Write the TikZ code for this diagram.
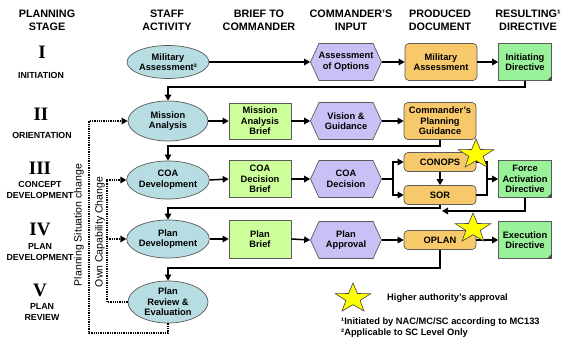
\documentclass[tikz,border=0pt]{standalone}
\usepackage{fontspec}
\setmainfont{Liberation Sans}
\newfontfamily\romanfont{Liberation Serif}
\usetikzlibrary{shapes.geometric,arrows.meta}
\definecolor{staffcol}{RGB}{183,221,226}
\definecolor{briefcol}{RGB}{204,255,153}
\definecolor{hexcol}{RGB}{202,192,246}
\definecolor{doccol}{RGB}{247,201,107}
\definecolor{dircol}{RGB}{153,242,153}
\definecolor{edgecol}{RGB}{90,90,90}
\definecolor{starcol}{RGB}{255,255,0}
\tikzset{
  hdr/.style={font=\bfseries\fontsize{10.8}{13}\selectfont, align=center, inner sep=0pt},
  rom/.style={font=\romanfont\bfseries\fontsize{19}{19}\selectfont, inner sep=0pt},
  stg/.style={font=\bfseries\fontsize{8.8}{10.5}\selectfont, align=center, inner sep=0pt},
  base/.style={font=\bfseries\fontsize{9.3}{10.6}\selectfont, align=center, inner sep=0pt, draw=edgecol, line width=0.7pt},
  staff/.style={base, ellipse, fill=staffcol, minimum width=80pt},
  brief/.style={base, rectangle, fill=briefcol, minimum width=62pt},
  hexbox/.style={base, draw=none, rectangle, minimum width=71pt, minimum height=37pt},
  hexshape/.style={fill=hexcol, draw=edgecol, line width=0.7pt},
  doc/.style={base, rectangle, rounded corners=4pt, fill=doccol, minimum width=72pt, minimum height=37pt},
  smalldoc/.style={doc, minimum height=19pt},
  dir/.style={base, rectangle, fill=dircol, minimum width=53pt, minimum height=37pt},
  link/.style={line width=1.5pt, black},
  conn/.style={link, -{Triangle[length=6pt,width=6.5pt]}},
  dotconn/.style={line width=1.4pt, black, dash pattern=on 1.3pt off 1pt, -{Triangle[length=6pt,width=6.5pt]}},
  rotlab/.style={font=\fontsize{10.5}{12}\selectfont, rotate=90, inner sep=0pt},
  note/.style={font=\bfseries\fontsize{9.3}{11}\selectfont, anchor=west, inner sep=0pt},
  starsty/.style={fill=starcol, draw=black!75, line width=0.6pt},
}
\newcommand\hexat[4]{%
  \filldraw[hexshape] (#2-35.5,#3) -- (#2-27,#3-18.5) -- (#2+27,#3-18.5) -- (#2+35.5,#3) -- (#2+27,#3+18.5) -- (#2-27,#3+18.5) -- cycle;
  \node[hexbox] (#1) at (#2,#3) {#4};}
\newcommand\starat[2]{%
  \filldraw[starsty, shift={(#1,#2)}, xscale=1.2] (-90:15.5) -- (-54:6.2) -- (-18:15.5) -- (18:6.2) -- (54:15.5) -- (90:6.2) -- (126:15.5) -- (162:6.2) -- (198:15.5) -- (234:6.2) -- cycle;}
\begin{document}
\begin{tikzpicture}[x=1pt,y=-1pt]
\useasboundingbox (0,0) rectangle (564,337);
\fill[white] (0,0) rectangle (564,337);
% headers
\node[hdr] (h1) at (47,20.5) {PLANNING\\STAGE};
\node[hdr] (h2) at (167,20.5) {STAFF\\ACTIVITY};
\node[hdr] (h3) at (259,20.5) {BRIEF TO\\COMMANDER};
\node[hdr] (h4) at (351,20.5) {COMMANDER’S\\INPUT};
\node[hdr] (h5) at (440,20.5) {PRODUCED\\DOCUMENT};
\node[hdr] (h6) at (528,20.5) {RESULTING¹\\DIRECTIVE};
% stages
\node[rom] (s1) at (42,52) {I};
\node[stg] (t1) at (41,75) {INITIATION};
\node[rom] (s2) at (41,114) {II};
\node[stg] (t2) at (42,135) {ORIENTATION};
\node[rom] (s3) at (40,168) {III};
\node[stg] (t3) at (40,190) {CONCEPT\\DEVELOPMENT};
\node[rom] (s4) at (40,229) {IV};
\node[stg] (t4) at (40,252) {PLAN\\DEVELOPMENT};
\node[rom] (s5) at (40,290) {V};
\node[stg] (t5) at (42,312) {PLAN\\REVIEW};
% staff activities
\node[staff, minimum height=33pt] (ma) at (168,62) {Military\\Assessment²};
\node[staff, minimum height=40pt] (mis) at (168,121) {Mission\\Analysis};
\node[staff, minimum height=38pt] (coa) at (168,180) {COA\\Development};
\node[staff, minimum height=38pt] (pd) at (168,239) {Plan\\Development};
\node[staff, minimum height=42pt] (prv) at (168,302) {Plan\\Review \&\\Evaluation};
% briefs
\node[brief, minimum height=36pt] (mab) at (260,121) {Mission\\Analysis\\Brief};
\node[brief, minimum height=37pt] (cdb) at (260,179) {COA\\Decision\\Brief};
\node[brief, minimum height=38pt] (pb) at (260,239) {Plan\\Brief};
% commander's input
\hexat{ao}{346}{62}{Assessment\\of Options}
\hexat{vg}{346}{121}{Vision \&\\Guidance}
\hexat{cd}{346}{179}{COA\\Decision}
\hexat{pa}{346}{240}{Plan\\Approval}
% documents
\node[doc] (mad) at (441,62) {Military\\Assessment};
\node[doc] (cpg) at (440,121) {Commander’s\\Planning\\Guidance};
\node[smalldoc] (conops) at (440,162) {CONOPS};
\node[smalldoc] (sor) at (440,195) {SOR};
\node[smalldoc] (oplan) at (440,240) {OPLAN};
% directives
\node[dir] (idr) at (525,62) {Initiating\\Directive};
\node[dir] (fad) at (525,179) {Force\\Activation\\Directive};
\node[dir] (ed) at (525,240) {Execution\\Directive};
\foreach \n in {idr,fad,ed}
  \fill[black!70] ([xshift=-5pt]\n.south east) -- (\n.south east) -- ([yshift=5pt]\n.south east) -- cycle;
% coordinates
\coordinate (r1) at (0,87);
\coordinate (r2) at (0,146);
\coordinate (r3) at (0,208);
\coordinate (r4) at (0,268);
\coordinate (split) at (393,179);
\coordinate (join) at (487,179);
\coordinate (fadend) at (442,211);
\coordinate (psc) at (89,333);
\coordinate (ocx) at (107,0);
% row 1
\draw[conn] (ma.east) -- (ao.west);
\draw[conn] (ao.east) -- (mad.west);
\draw[conn] (mad.east) -- (idr.west);
\draw[conn] (idr.south) |- (mis.north |- r1) -- (mis.north);
% row 2
\draw[conn] (mis.east) -- (mab.west);
\draw[conn] (mab.east) -- (vg.west);
\draw[conn] (vg.east) -- (cpg.west);
\draw[conn] (cpg.south) |- (coa.north |- r2) -- (coa.north);
% row 3
\draw[conn] (coa.east) -- (cdb.west);
\draw[conn] (cdb.east) -- (cd.west);
\draw[link] (cd.east) -- (split);
\draw[conn] (split) |- (conops.west);
\draw[conn] (split) |- (sor.west);
\draw[conn] (conops.south) -- (sor.north);
\draw[link] (conops.east) -| (join);
\draw[link] (sor.east) -| (join);
\draw[conn] (join) -- (fad.west);
\draw[conn] (fad.south) |- (fadend);
\draw[conn] (sor.south) |- (pd.north |- r3) -- (pd.north);
% row 4
\draw[conn] (pd.east) -- (pb.west);
\draw[conn] (pb.east) -- (pa.west);
\draw[conn] (pa.east) -- (oplan.west);
\draw[conn] (oplan.east) -- (ed.west);
\draw[conn] (oplan.south) |- (prv.north |- r4) -- (prv.north);
% feedback loops
\draw[dotconn] (prv.south) |- (psc) |- (mis.west);
\draw[dotconn] (prv.west) -- (prv.west -| ocx) |- (coa.west);
\draw[dotconn] (pd.west -| ocx) -- (pd.west);
\node[rotlab] (lps) at (79,225) {Planning Situation change};
\node[rotlab] (loc) at (100,232) {Own Capability Change};
% stars
\starat{476}{154.5}
\starat{473}{228.5}
\starat{353}{298.5}
% legend
\node[note] (leg) at (387,298) {Higher authority’s approval};
\node[note] (fn1) at (341,322) {¹Initiated by NAC/MC/SC according to MC133};
\node[note] (fn2) at (341,333) {²Applicable to SC Level Only};
\end{tikzpicture}
\end{document}
